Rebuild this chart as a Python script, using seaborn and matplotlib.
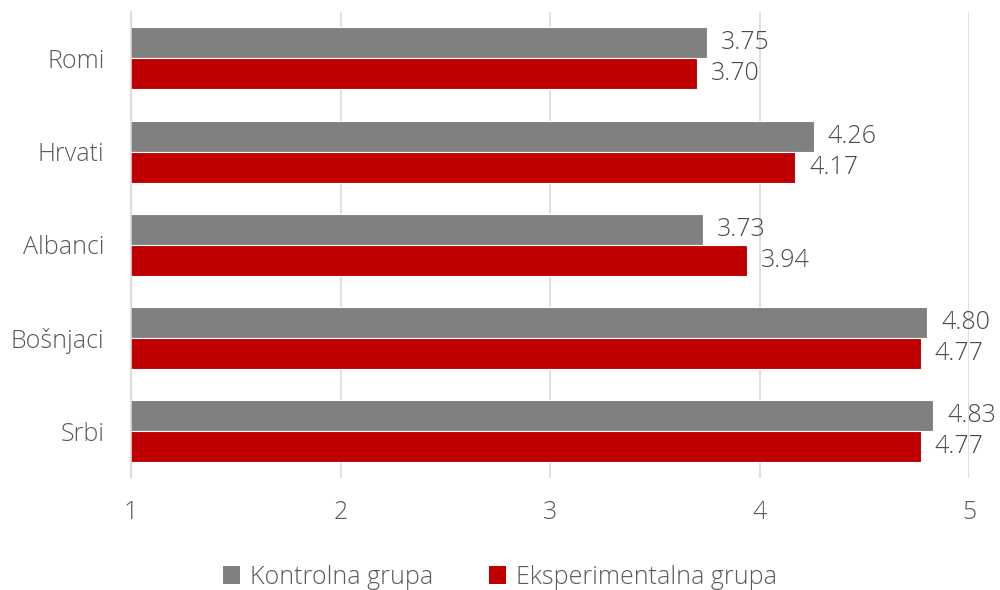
import pandas as pd
import matplotlib.pyplot as plt
import seaborn as sns
from matplotlib.patches import Patch

# data
groups = ["Romi", "Hrvati", "Albanci", "Bošnjaci", "Srbi"]
series_names = ["Kontrolna grupa", "Eksperimentalna grupa"]
kontrolna = [3.75, 4.26, 3.73, 4.80, 4.83]
eksperimentalna = [3.70, 4.17, 3.94, 4.77, 4.77]
x_ticks = [1, 2, 3, 4, 5]
colors = ["#808080", "#C00000"]

sns.set_theme(style="white")
plt.rcParams["font.family"] = ["Open Sans", "DejaVu Sans"]
plt.rcParams["font.weight"] = "light"
text_color = "#595959"

df = pd.DataFrame({
    "group": groups * 2,
    "serija": [series_names[0]] * len(groups) + [series_names[1]] * len(groups),
    "value": kontrolna + eksperimentalna,
})

fig = plt.figure(figsize=(10, 5.9), dpi=100)
ax = fig.add_axes([0.131, 0.19, 0.838, 0.79])

sns.barplot(data=df, y="group", x="value", hue="serija", order=groups,
            hue_order=series_names, palette=colors, orient="h",
            width=0.667, saturation=1, edgecolor="white", linewidth=0.8,
            legend=False, ax=ax)

for cont in ax.containers:
    ax.bar_label(cont, fmt="%.2f", padding=10, fontsize=18, color="#4a4a4a")

ax.set_xlim(1, 5)
ax.set_ylim(len(groups) - 0.5, -0.5)
ax.set_xticks(x_ticks)
ax.set_xlabel("")
ax.set_ylabel("")
ax.xaxis.grid(True, color="#D9D9D9", linewidth=1.2)
ax.set_axisbelow(True)
for s in ["top", "right", "bottom"]:
    ax.spines[s].set_visible(False)
ax.spines["left"].set_color("#D9D9D9")
ax.spines["left"].set_linewidth(1.2)

ax.tick_params(axis="x", length=0, labelsize=18, labelcolor=text_color, pad=16)
ax.tick_params(axis="y", which="major", length=0, labelsize=18,
               labelcolor=text_color, pad=19)
ax.set_yticks([i - 0.5 for i in range(len(groups) + 1)], minor=True)
ax.tick_params(axis="y", which="minor", length=7, color="#D9D9D9", width=1.2)

handles = [Patch(facecolor=c, edgecolor="none") for c in colors]
fig.legend(handles, series_names, loc="center", bbox_to_anchor=(0.5, 0.022),
           ncol=2, frameon=False, fontsize=18, labelcolor=text_color,
           handlelength=0.7, handleheight=0.7, handletextpad=0.4,
           columnspacing=2.2)

fig.savefig("out.png")
